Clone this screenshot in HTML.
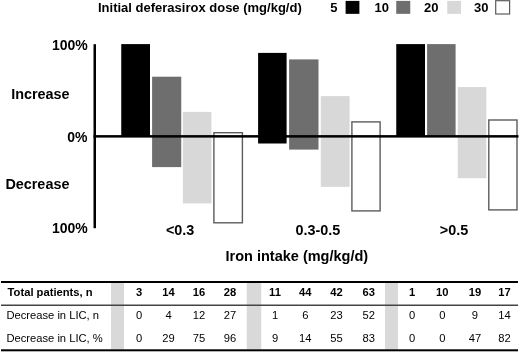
<!DOCTYPE html>
<html><head><meta charset="utf-8"><style>
html,body{margin:0;padding:0;background:#fff;}
body{width:520px;height:353px;overflow:hidden;}
svg{display:block;will-change:transform;}
text{font-family:"Liberation Sans",sans-serif;fill:#000;}
.b13{font-weight:bold;font-size:13px;}
.b14{font-weight:bold;font-size:14px;}
.b144{font-weight:bold;font-size:14.4px;}
.b145{font-weight:bold;font-size:14.5px;}
.b11{font-weight:bold;font-size:11.2px;}
.r11{font-size:11.2px;}
</style></head><body>
<svg width="520" height="353" viewBox="0 0 520 353">
<rect x="0" y="0" width="520" height="353" fill="#fff"/>
<text x="98" y="11.7" class="b13">Initial deferasirox dose (mg/kg/d)</text>
<text x="330.25" y="12.0" class="b13">5</text>
<rect x="345.6" y="0.9" width="13.80" height="12.95" fill="#000"/>
<text x="374.5" y="12.0" class="b13">10</text>
<rect x="396.25" y="0.9" width="14.00" height="12.95" fill="#6e6e6e"/>
<text x="424.1" y="12.0" class="b13">20</text>
<rect x="447.25" y="0.9" width="13.75" height="12.95" fill="#d8d8d8"/>
<text x="474.0" y="12.0" class="b13">30</text>
<rect x="495.70" y="0.70" width="13.90" height="13.30" fill="#fff" stroke="#5c5c5c" stroke-width="1.2"/>
<text x="87.8" y="50.0" class="b14" text-anchor="end">100%</text>
<text x="69.6" y="99.1" class="b144" text-anchor="end">Increase</text>
<text x="87.4" y="142.2" class="b14" text-anchor="end">0%</text>
<text x="69.4" y="188.7" class="b144" text-anchor="end">Decrease</text>
<text x="87.8" y="232.8" class="b14" text-anchor="end">100%</text>
<rect x="121.25" y="44.1" width="28.75" height="91.90" fill="#000"/>
<rect x="152.1" y="76.7" width="29.15" height="90.40" fill="#6e6e6e"/>
<rect x="182.9" y="111.9" width="28.50" height="91.50" fill="#d8d8d8"/>
<rect x="213.90" y="132.70" width="28.50" height="90.10" fill="#fff" stroke="#5c5c5c" stroke-width="1.4"/>
<rect x="258.1" y="52.9" width="28.50" height="90.60" fill="#000"/>
<rect x="289.1" y="59.4" width="29.40" height="90.20" fill="#6e6e6e"/>
<rect x="320.8" y="96.1" width="28.80" height="90.75" fill="#d8d8d8"/>
<rect x="351.90" y="121.90" width="28.20" height="89.00" fill="#fff" stroke="#5c5c5c" stroke-width="1.4"/>
<rect x="396.25" y="44.1" width="28.75" height="91.90" fill="#000"/>
<rect x="427.1" y="44.1" width="28.50" height="91.90" fill="#6e6e6e"/>
<rect x="457.75" y="87.1" width="28.55" height="91.10" fill="#d8d8d8"/>
<rect x="488.80" y="120.00" width="28.20" height="89.90" fill="#fff" stroke="#5c5c5c" stroke-width="1.4"/>
<rect x="93.5" y="44.2" width="2.5" height="184.0" fill="#000"/>
<rect x="93.5" y="135.1" width="425" height="2.5" fill="#000"/>
<text x="180.1" y="234.5" class="b144" text-anchor="middle">&lt;0.3</text>
<text x="317.9" y="234.5" class="b144" text-anchor="middle">0.3-0.5</text>
<text x="454.05" y="234.5" class="b144" text-anchor="middle">&gt;0.5</text>
<text x="296.85" y="261.25" class="b145" text-anchor="middle">Iron intake (mg/kg/d)</text>
<rect x="111" y="283" width="13" height="66.5" fill="#d9d9d9"/>
<rect x="246.75" y="283" width="14.5" height="66.5" fill="#d9d9d9"/>
<rect x="385" y="283" width="13" height="66.5" fill="#d9d9d9"/>
<rect x="1" y="281" width="517" height="2" fill="#000"/>
<rect x="1" y="304.5" width="517" height="1.5" fill="#444"/>
<rect x="1" y="349.3" width="517" height="2" fill="#000"/>
<text x="7.6" y="296.2" class="b11">Total patients, n</text>
<text x="6.4" y="319.0" class="r11">Decrease in LIC, n</text>
<text x="6.4" y="342.0" class="r11">Decrease in LIC, %</text>
<text x="139" y="296.2" class="b11" text-anchor="middle">3</text>
<text x="168.5" y="296.2" class="b11" text-anchor="middle">14</text>
<text x="199" y="296.2" class="b11" text-anchor="middle">16</text>
<text x="230" y="296.2" class="b11" text-anchor="middle">28</text>
<text x="275" y="296.2" class="b11" text-anchor="middle">11</text>
<text x="305.25" y="296.2" class="b11" text-anchor="middle">44</text>
<text x="336.5" y="296.2" class="b11" text-anchor="middle">42</text>
<text x="368.75" y="296.2" class="b11" text-anchor="middle">63</text>
<text x="412" y="296.2" class="b11" text-anchor="middle">1</text>
<text x="442.25" y="296.2" class="b11" text-anchor="middle">10</text>
<text x="474.9" y="296.2" class="b11" text-anchor="middle">19</text>
<text x="504.5" y="296.2" class="b11" text-anchor="middle">17</text>
<text x="139" y="319.0" class="r11" text-anchor="middle">0</text>
<text x="168.5" y="319.0" class="r11" text-anchor="middle">4</text>
<text x="199" y="319.0" class="r11" text-anchor="middle">12</text>
<text x="230" y="319.0" class="r11" text-anchor="middle">27</text>
<text x="275" y="319.0" class="r11" text-anchor="middle">1</text>
<text x="305.25" y="319.0" class="r11" text-anchor="middle">6</text>
<text x="336.5" y="319.0" class="r11" text-anchor="middle">23</text>
<text x="368.75" y="319.0" class="r11" text-anchor="middle">52</text>
<text x="412" y="319.0" class="r11" text-anchor="middle">0</text>
<text x="442.25" y="319.0" class="r11" text-anchor="middle">0</text>
<text x="474.9" y="319.0" class="r11" text-anchor="middle">9</text>
<text x="504.5" y="319.0" class="r11" text-anchor="middle">14</text>
<text x="139" y="342.0" class="r11" text-anchor="middle">0</text>
<text x="168.5" y="342.0" class="r11" text-anchor="middle">29</text>
<text x="199" y="342.0" class="r11" text-anchor="middle">75</text>
<text x="230" y="342.0" class="r11" text-anchor="middle">96</text>
<text x="275" y="342.0" class="r11" text-anchor="middle">9</text>
<text x="305.25" y="342.0" class="r11" text-anchor="middle">14</text>
<text x="336.5" y="342.0" class="r11" text-anchor="middle">55</text>
<text x="368.75" y="342.0" class="r11" text-anchor="middle">83</text>
<text x="412" y="342.0" class="r11" text-anchor="middle">0</text>
<text x="442.25" y="342.0" class="r11" text-anchor="middle">0</text>
<text x="474.9" y="342.0" class="r11" text-anchor="middle">47</text>
<text x="504.5" y="342.0" class="r11" text-anchor="middle">82</text>
</svg>
</body></html>
